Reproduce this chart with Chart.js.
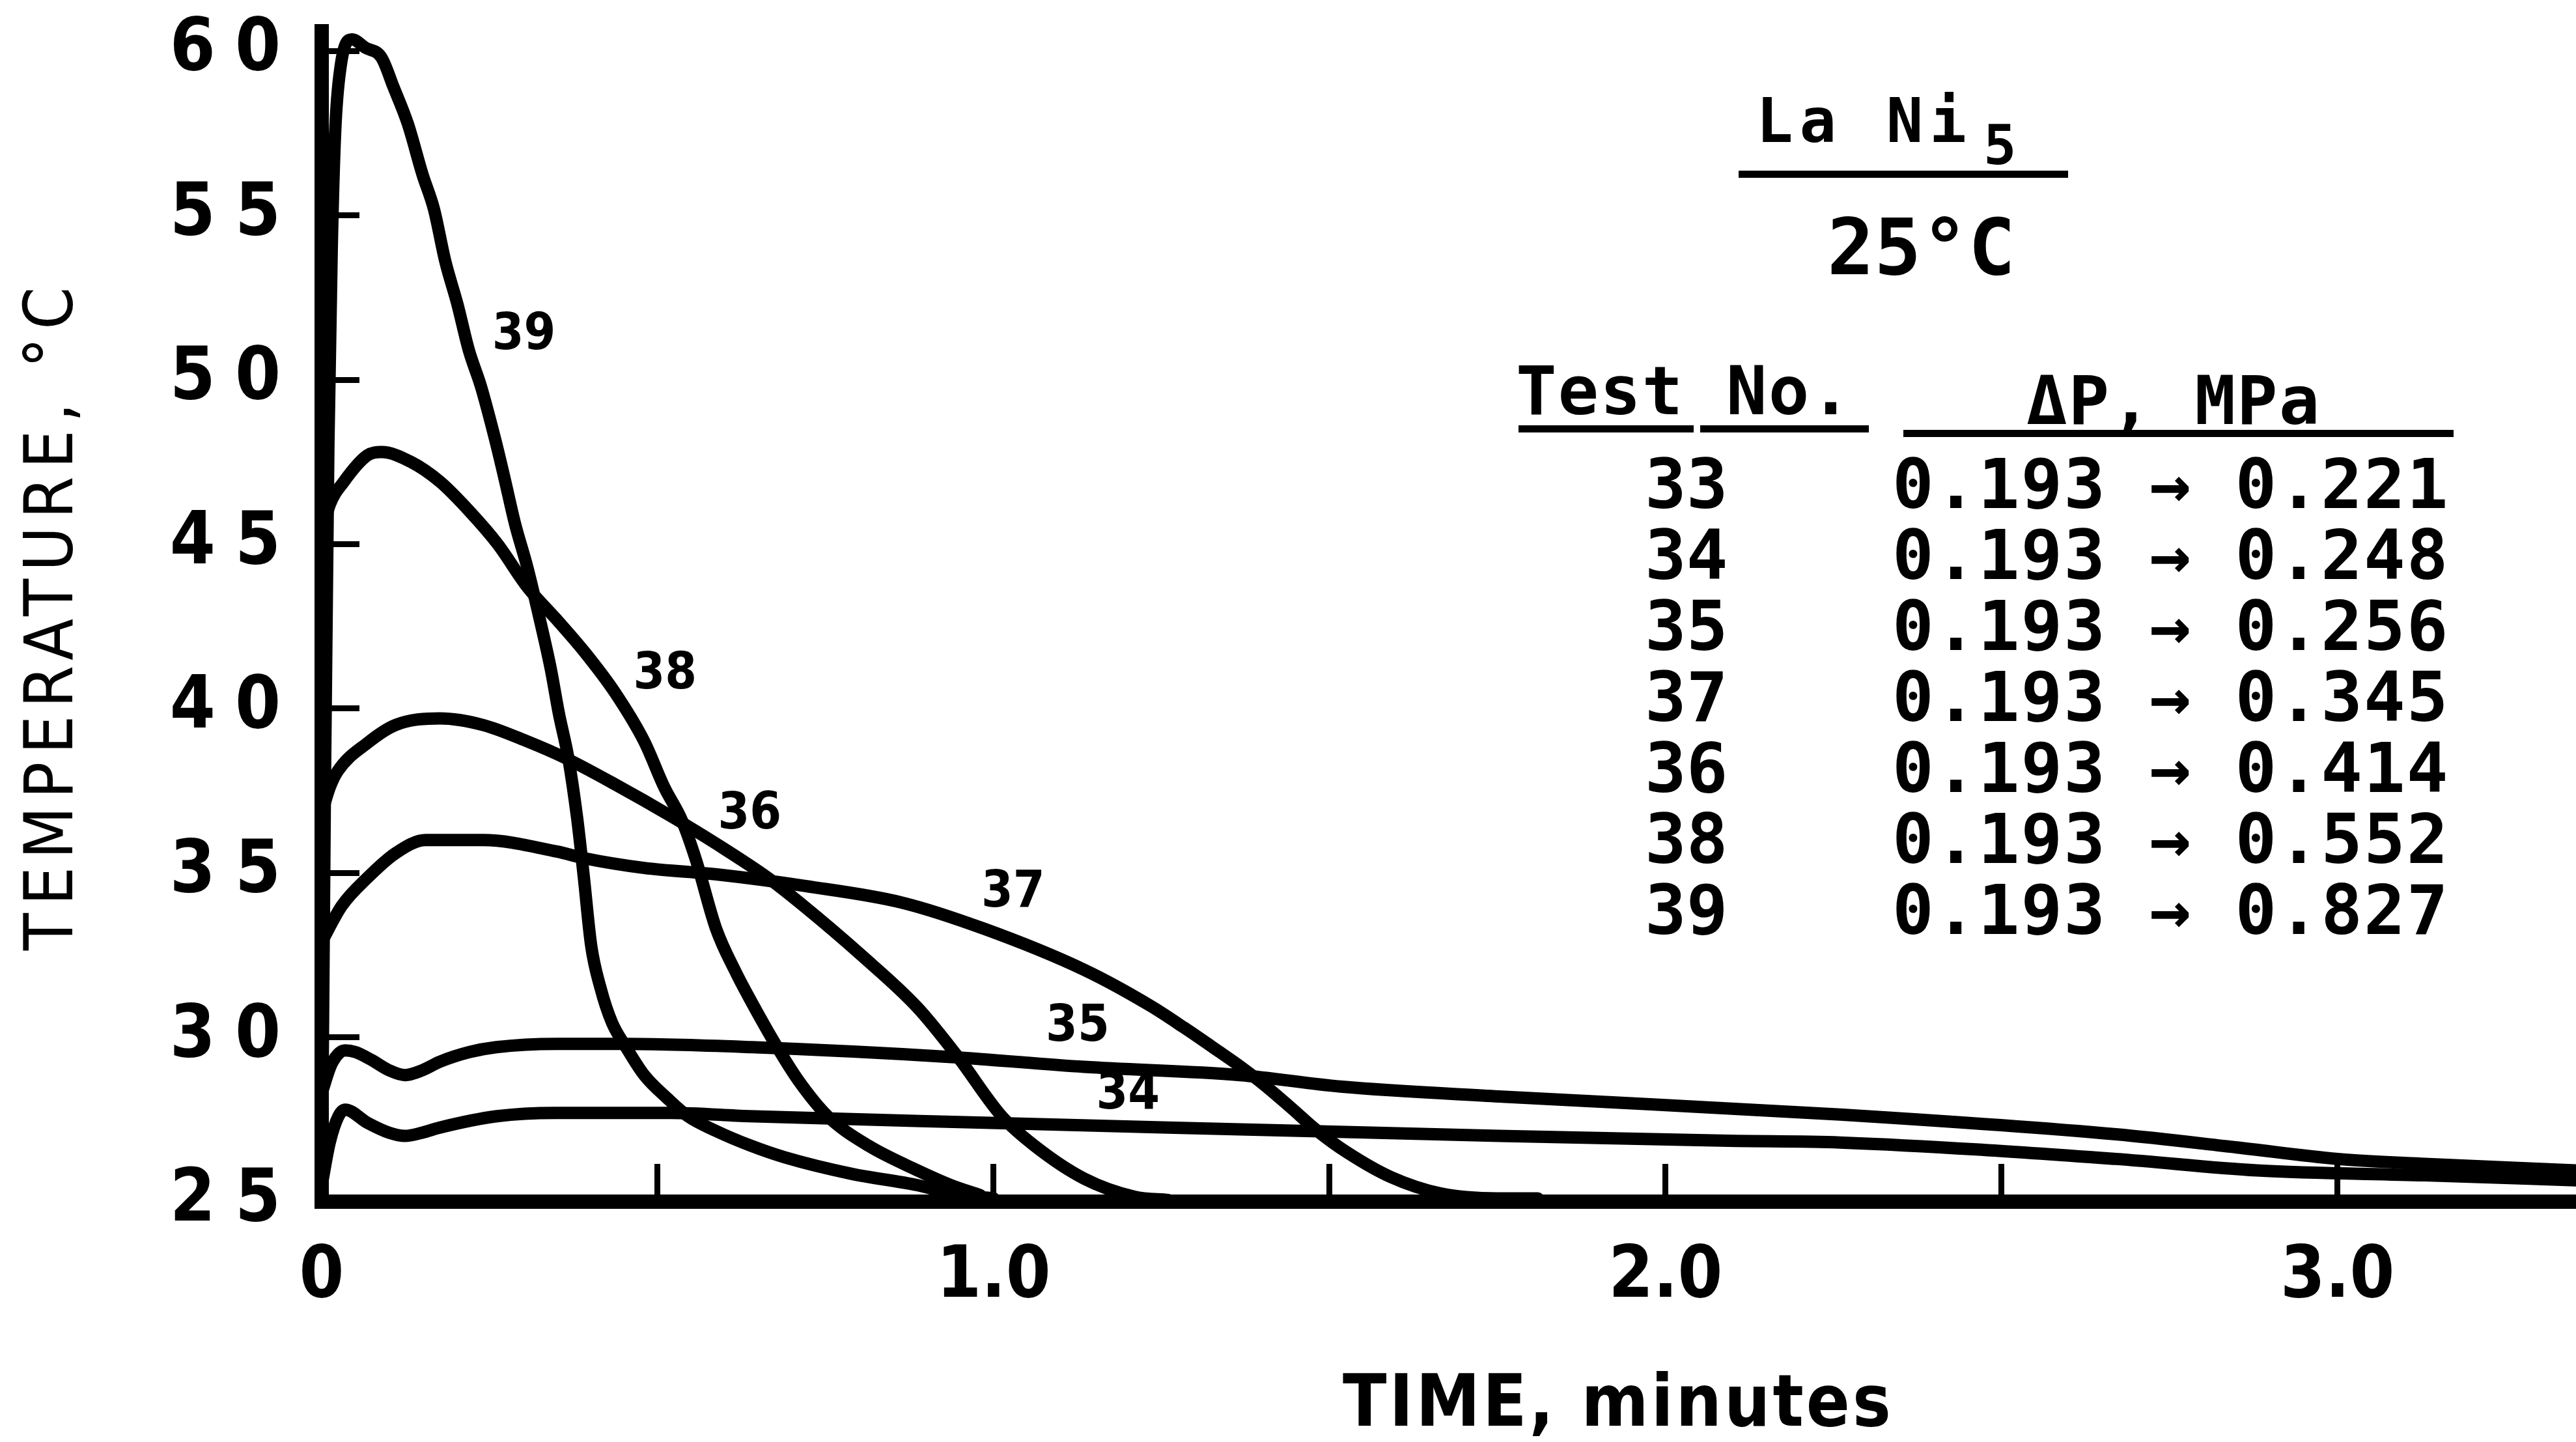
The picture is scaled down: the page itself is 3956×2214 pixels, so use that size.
<!DOCTYPE html>
<html>
<head>
<meta charset="utf-8">
<title>LaNi5 temperature vs time</title>
<script src="https://cdn.jsdelivr.net/npm/chart.js@4.4.1/dist/chart.umd.min.js"></script>
<style>
  html, body { margin: 0; padding: 0; background: #fff; }
  canvas { display: block; }
</style>
</head>
<body>
<canvas id="chart" width="3956" height="2214"></canvas>
<script>
// Curves: time in minutes, temperature in °C
const time39 = [0, 0.005, 0.01, 0.015, 0.02, 0.028, 0.045, 0.065, 0.089, 0.107, 0.128, 0.15, 0.167, 0.184, 0.202, 0.219, 0.237, 0.258, 0.271, 0.288, 0.306, 0.327, 0.341, 0.353, 0.367, 0.38, 0.39, 0.401, 0.415, 0.432, 0.453, 0.48, 0.514, 0.545, 0.587, 0.639, 0.689, 0.788, 0.887, 0.937, 1.0];
const temp39 = [25, 38, 48, 54, 57.5, 59.5, 60.35, 60.1, 59.8, 58.9, 57.8, 56.25, 55.2, 53.6, 52.3, 50.9, 49.8, 48.2, 47.1, 45.6, 44.3, 42.5, 41.2, 39.85, 38.5, 36.7, 34.9, 32.8, 31.5, 30.45, 29.7, 28.85, 28.15, 27.6, 27.15, 26.7, 26.35, 25.85, 25.5, 25.25, 25.1];

const time38 = [0, 0.012, 0.033, 0.068, 0.089, 0.133, 0.176, 0.22, 0.262, 0.306, 0.35, 0.392, 0.436, 0.48, 0.51, 0.536, 0.557, 0.587, 0.617, 0.639, 0.675, 0.709, 0.753, 0.814, 0.887, 0.937, 0.98];
const temp38 = [45.3, 46.2, 46.9, 47.7, 47.8, 47.5, 46.9, 46.0, 45.0, 43.7, 42.7, 41.7, 40.5, 39.0, 37.6, 36.6, 35.4, 33.3, 31.95, 31.1, 29.8, 28.7, 27.6, 26.7, 25.95, 25.5, 25.2];

const time36 = [0, 0.012, 0.024, 0.068, 0.11, 0.176, 0.24, 0.306, 0.362, 0.436, 0.522, 0.59, 0.664, 0.714, 0.803, 0.887, 0.947, 1.012, 1.061, 1.135, 1.21, 1.26];
const temp36 = [36.8, 37.6, 38.1, 38.95, 39.5, 39.7, 39.5, 39.0, 38.5, 37.7, 36.7, 35.85, 34.85, 34.05, 32.5, 30.9, 29.4, 27.6, 26.7, 25.7, 25.15, 25.05];

const time37 = [0, 0.03, 0.068, 0.11, 0.155, 0.24, 0.35, 0.39, 0.48, 0.59, 0.72, 0.863, 0.986, 1.135, 1.234, 1.283, 1.333, 1.368, 1.403, 1.443, 1.482, 1.526, 1.591, 1.665, 1.75, 1.81];
const temp37 = [32.9, 34.0, 34.85, 35.6, 36.0, 36.0, 35.65, 35.45, 35.15, 34.95, 34.6, 34.1, 33.3, 32.05, 30.95, 30.3, 29.6, 29.1, 28.55, 27.85, 27.15, 26.5, 25.75, 25.25, 25.1, 25.1];

const time35 = [0, 0.015, 0.035, 0.05, 0.075, 0.1, 0.124, 0.15, 0.175, 0.22, 0.26, 0.35, 0.45, 0.64, 0.937, 1.135, 1.367, 1.516, 1.752, 2.26, 2.67, 2.85, 3.0, 3.13, 3.355];
const temp35 = [28.3, 29.2, 29.6, 29.55, 29.3, 29.0, 28.85, 29.0, 29.25, 29.55, 29.7, 29.8, 29.8, 29.7, 29.4, 29.1, 28.85, 28.5, 28.2, 27.65, 27.05, 26.65, 26.3, 26.15, 25.95];

const time34 = [0, 0.012, 0.025, 0.035, 0.068, 0.1, 0.124, 0.15, 0.175, 0.261, 0.348, 0.52, 0.636, 0.986, 1.367, 1.752, 2.095, 2.26, 2.67, 2.88, 3.13, 3.355];
const temp34 = [25.5, 26.8, 27.6, 27.8, 27.4, 27.1, 27.0, 27.1, 27.25, 27.6, 27.7, 27.7, 27.6, 27.4, 27.2, 27.0, 26.85, 26.8, 26.3, 25.95, 25.8, 25.65];

// Axis ticks
const xTickValues = [0, 0.5, 1, 1.5, 2, 2.5, 3];
const xTickText = ['0', '', '1.0', '', '2.0', '', '3.0'];
const yTickValues = [25, 30, 35, 40, 45, 50, 55, 60];

// Numbers written next to the curves, and where they sit (minutes, °C)
const curveLabels = ['39', '38', '36', '37', '35', '34'];
const labelTimes = [0.301, 0.511, 0.637, 1.029, 1.125, 1.2];
const labelTemps = [51.34, 41.02, 36.76, 34.37, 30.29, 28.23];

// Key table
const testNumbers = ['33', '34', '35', '37', '36', '38', '39'];
const pressureSteps = ['0.193 → 0.221', '0.193 → 0.248', '0.193 → 0.256', '0.193 → 0.345',
                       '0.193 → 0.414', '0.193 → 0.552', '0.193 → 0.827'];

const series = [
    { name: '39', t: time39, v: temp39 },
    { name: '38', t: time38, v: temp38 },
    { name: '36', t: time36, v: temp36 },
    { name: '37', t: time37, v: temp37 },
    { name: '35', t: time35, v: temp35 },
    { name: '34', t: time34, v: temp34 }
];

const FONT = '"DejaVu Sans Condensed", "DejaVu Sans", sans-serif';
const MONO = '"DejaVu Sans Mono", monospace';

// y tick labels are widely letter-spaced in the original ("6 0")
const spacedTicks = {
    id: 'spacedTicks',
    beforeDraw(chart) {
        const s = chart.scales.y;
        if (s._spaced) return;
        const orig = s.drawLabels;
        s.drawLabels = function(area) {
            this.ctx.save();
            this.ctx.letterSpacing = '30px';
            orig.call(this, area);
            this.ctx.restore();
        };
        s._spaced = true;
    }
};

// Axis titles, curve numbers and the key in the upper right
const annotations = {
    id: 'annotations',
    afterDraw(chart) {
        const { ctx, scales: { x, y } } = chart;
        ctx.save();
        ctx.fillStyle = '#000';

        // curve numbers
        ctx.font = 'bold 78px ' + FONT;
        ctx.textAlign = 'center';
        ctx.textBaseline = 'middle';
        curveLabels.forEach((txt, i) => {
            ctx.fillText(txt, x.getPixelForValue(labelTimes[i]), y.getPixelForValue(labelTemps[i]));
        });

        // x title
        ctx.font = 'bold 110px ' + FONT;
        ctx.letterSpacing = '4px';
        ctx.textBaseline = 'alphabetic';
        ctx.fillText('TIME, minutes', 2485, 2189);

        // y title
        ctx.save();
        ctx.translate(84, 944);
        ctx.rotate(-Math.PI / 2);
        ctx.font = '104px ' + FONT;
        ctx.letterSpacing = '12px';
        ctx.textBaseline = 'middle';
        ctx.fillText('TEMPERATURE, °C', 0, 0);
        ctx.restore();

        // key header
        ctx.textAlign = 'left';
        ctx.textBaseline = 'alphabetic';
        ctx.font = 'bold 94px ' + MONO;
        ctx.letterSpacing = '10px';
        ctx.fillText('La Ni', 2697, 218);
        ctx.font = 'bold 84px ' + MONO;
        ctx.letterSpacing = '0px';
        ctx.fillText('5', 3046, 252);
        ctx.fillRect(2670, 262, 506, 11);

        ctx.font = 'bold 120px ' + MONO;
        ctx.fillText('25°C', 2806, 421);

        ctx.font = 'bold 104px ' + MONO;
        ctx.letterSpacing = '2px';
        ctx.fillText('Test No.', 2328, 636);
        ctx.fillText('ΔP, MPa', 3112, 651);
        ctx.fillRect(2332, 653, 269, 11);
        ctx.fillRect(2611, 653, 259, 11);
        ctx.fillRect(2923, 660, 845, 11);

        ctx.font = 'bold 106px ' + MONO;
        testNumbers.forEach((n, i) => {
            const base = 780 + i * 109;
            ctx.letterSpacing = '0px';
            ctx.fillText(n, 2526, base);
            ctx.letterSpacing = '2px';
            ctx.fillText(pressureSteps[i], 2906, base);
        });

        ctx.restore();
    }
};

const ctx = document.getElementById('chart').getContext('2d');
const chart = new Chart(ctx, {
    type: 'line',
    data: {
        datasets: series.map(s => ({
            label: 'Test ' + s.name,
            data: s.t.map((t, i) => ({ x: t, y: s.v[i] })),
            borderColor: '#000',
            borderWidth: 19,
            pointRadius: 0,
            cubicInterpolationMode: 'monotone',
            borderCapStyle: 'round',
            borderJoinStyle: 'round',
            fill: false
        }))
    },
    options: {
        responsive: false,
        animation: false,
        devicePixelRatio: 1,
        events: [],
        layout: { padding: { top: 48, right: 0, bottom: 0, left: 0 } },
        plugins: { legend: { display: false }, tooltip: { enabled: false } },
        scales: {
            x: {
                type: 'linear',
                min: 0,
                max: 3.355,
                afterBuildTicks: axis => { axis.ticks = xTickValues.map(v => ({ value: v })); },
                afterFit: axis => { axis.height = 369; axis.paddingLeft = 0; axis.paddingRight = 0; },
                border: { color: '#000', width: 22 },
                grid: { drawOnChartArea: false, drawTicks: true, tickLength: -58, tickWidth: 9, tickColor: '#000' },
                ticks: {
                    autoSkip: false,
                    maxRotation: 0,
                    padding: 109,
                    color: '#000',
                    font: { family: FONT, size: 110, weight: 'bold' },
                    callback: v => xTickText[xTickValues.indexOf(v)]
                }
            },
            y: {
                min: 25,
                max: 60.6,
                afterBuildTicks: axis => { axis.ticks = yTickValues.map(v => ({ value: v })); },
                afterFit: axis => { axis.width = 494; axis.paddingTop = 0; axis.paddingBottom = 0; },
                border: { color: '#000', width: 22 },
                grid: { drawOnChartArea: false, drawTicks: true, tickLength: -58, tickWidth: 9, tickColor: '#000' },
                ticks: {
                    padding: 91,
                    color: '#000',
                    font: { family: FONT, size: 112, weight: 'bold' },
                    callback: v => String(v)
                }
            }
        }
    },
    plugins: [spacedTicks, annotations]
});
</script>
</body>
</html>
